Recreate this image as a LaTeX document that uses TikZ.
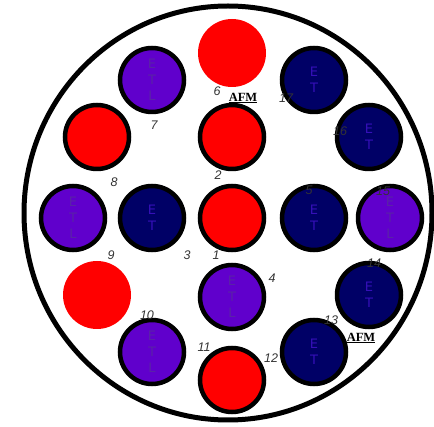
\documentclass[tikz,border=0pt]{standalone}
\usepackage{fontspec}
\setsansfont{DejaVu Sans}
\newfontfamily\numfont{Liberation Sans}
\newfontfamily\afmfont{Liberation Serif}
\usepackage{tikz}
\usetikzlibrary{positioning}
\definecolor{etlpurple}{HTML}{6000CC}
\definecolor{etltext}{HTML}{5A22A8}
\definecolor{etnavy}{HTML}{000066}
\definecolor{ettext}{HTML}{3510B8}
\definecolor{numgray}{HTML}{333333}

\begin{document}
\begin{tikzpicture}[x=1pt, y=-1pt,
    hole/.style={circle, minimum size=64pt, inner sep=0pt, line width=4.5pt, align=center,
        font=\fontsize{13}{16}\selectfont\sffamily},
    etl/.style={hole, draw, fill=etlpurple, text=etltext},
    et/.style={hole, draw, fill=etnavy, text=ettext},
    redhole/.style={hole, draw, fill=red},
    bare/.style={hole, minimum size=68pt, fill=red},
    num/.style={font=\fontsize{12.5}{14}\selectfont\numfont\itshape, text=numgray, inner sep=0pt},
    afm/.style={font=\fontsize{12.5}{14}\selectfont\afmfont\bfseries, inner sep=0pt}]
        \useasboundingbox (0,0) rectangle (434,427);
        \draw[line width=5pt] (228,213) ellipse (204 and 207);

        % holes
        \node[redhole] (c1) at (232,218) {};
        \node[redhole] (c2) at (232,137) {};
        \node[et] (c3) at (152,218) {E\\T};
        \node[etl] (c4) at (232,297) {E\\T\\L};
        \node[et] (c5) at (314,218) {E\\T};
        \node[bare] (c6) at (232,53) {};
        \node[etl] (c7) at (152,80) {E\\T\\L};
        \node[redhole] (c8) at (97,137) {};
        \node[etl] (c9) at (73,218) {E\\T\\L};
        \node[etl] (c10) at (152,352) {E\\T\\L};
        \node[redhole] (c11) at (232,380) {};
        \node[et] (c12) at (314,352) {E\\T};
        \node[bare] (c13) at (97,295) {};
        \node[et] (c14) at (369,295) {E\\T};
        \node[etl] (c15) at (390,218) {E\\T\\L};
        \node[et] (c16) at (369,137) {E\\T};
        \node[et] (c17) at (314,80) {E\\T};

        % hole numbers
        \node[num] (l1) at (216,255) {1};
        \node[num] (l2) at (218,175) {2};
        \node[num] (l3) at (187,255) {3};
        \node[num] (l4) at (272,278) {4};
        \node[num] (l5) at (309,190) {5};
        \node[num] (l6) at (217,91) {6};
        \node[num] (l7) at (154,125) {7};
        \node[num] (l8) at (114,182) {8};
        \node[num] (l9) at (111,255) {9};
        \node[num] (l10) at (147,315) {10};
        \node[num] (l11) at (204,347) {11};
        \node[num] (l12) at (271,358) {12};
        \node[num] (l13) at (331,320) {13};
        \node[num] (l14) at (374,263) {14};
        \node[num] (l15) at (383,191) {15};
        \node[num] (l16) at (340,131) {16};
        \node[num] (l17) at (286,98) {17};
        \node[afm] (afm1) at (243,98) {\underline{AFM}};
        \node[afm] (afm2) at (361,338) {\underline{AFM}};
\end{tikzpicture}
\end{document}
